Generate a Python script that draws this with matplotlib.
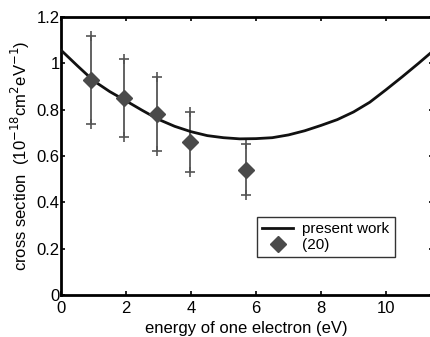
import matplotlib
matplotlib.use("Agg")
import matplotlib.pyplot as plt
from matplotlib.ticker import FuncFormatter

plt.rcParams['font.family'] = ['Liberation Sans', 'DejaVu Sans']

# present work curve
curve_x = [0.0, 0.5, 1.0, 1.5, 2.0, 2.5, 3.0, 3.5, 4.0, 4.5, 5.0, 5.5, 6.0, 6.5, 7.0, 7.5, 8.0, 8.5, 9.0, 9.5, 10.0, 10.5, 11.0, 11.4]
curve_y = [1.057, 0.99, 0.925, 0.878, 0.838, 0.797, 0.758, 0.728, 0.705, 0.688, 0.679, 0.674, 0.675, 0.679, 0.691, 0.709, 0.732, 0.757, 0.79, 0.832, 0.886, 0.942, 1.0, 1.048]

# reference (20) data
ref_x = [0.93, 1.95, 2.95, 3.97, 5.68]
ref_y = [0.93, 0.85, 0.78, 0.66, 0.54]
ref_lo = [0.74, 0.68, 0.62, 0.53, 0.43]
ref_hi = [1.12, 1.02, 0.94, 0.79, 0.65]

xticks = [0, 2, 4, 6, 8, 10]
yticks = [0, 0.2, 0.4, 0.6, 0.8, 1.0, 1.2]

fig = plt.figure(figsize=(4.3, 3.37), dpi=100)
x0, x1 = 61, 432.5
ax = fig.add_axes([x0/430, 1-295/337, (x1-x0)/430, (295-17)/337])

ax.plot(curve_x, curve_y, color='#111111', lw=2.0, label='present work', zorder=3)
yerr = [[y - l for y, l in zip(ref_y, ref_lo)], [h - y for y, h in zip(ref_y, ref_hi)]]
ax.errorbar(ref_x, ref_y, yerr=yerr, fmt='none', ecolor='#555555', elinewidth=1.3, capsize=0, zorder=2)
ax.plot(ref_x, ref_lo, '+', color='#555555', ms=7, mew=1.2, zorder=2)
ax.plot(ref_x, ref_hi, '+', color='#555555', ms=7, mew=1.2, zorder=2)
ax.plot(ref_x, ref_y, 'D', color='#4a4a4a', ms=8, ls='none', label='(20)', zorder=4)

ax.set_xlim(0, (x1-x0)/32.5)
ax.set_ylim(0, 1.2)
ax.set_xticks(xticks)
ax.set_yticks(yticks)
ax.yaxis.set_major_formatter(FuncFormatter(lambda v, p: ('%g' % round(v, 2))))
ax.tick_params(direction='in', top=True, right=True, labelsize=12, length=3, width=1.2)
ax.tick_params(axis='x', pad=4)
ax.tick_params(axis='y', pad=1)
for s in ax.spines.values():
    s.set_linewidth(2.0)

ax.set_xlabel('energy of one electron (eV)', fontsize=12, labelpad=4)
ax.set_ylabel('cross section  (10$^{-18}$cm$^2$eV$^{-1}$)', fontsize=12, labelpad=3)

leg = ax.legend(loc='upper left', bbox_to_anchor=((257-x0)/(x1-x0), 1-(217-17)/278),
                fontsize=11, frameon=True, fancybox=False, edgecolor='black',
                handlelength=2.0, borderpad=0.35, labelspacing=0.1, handletextpad=0.6, borderaxespad=0)
leg.get_frame().set_linewidth(1.0)

fig.savefig('out.png', dpi=100)
